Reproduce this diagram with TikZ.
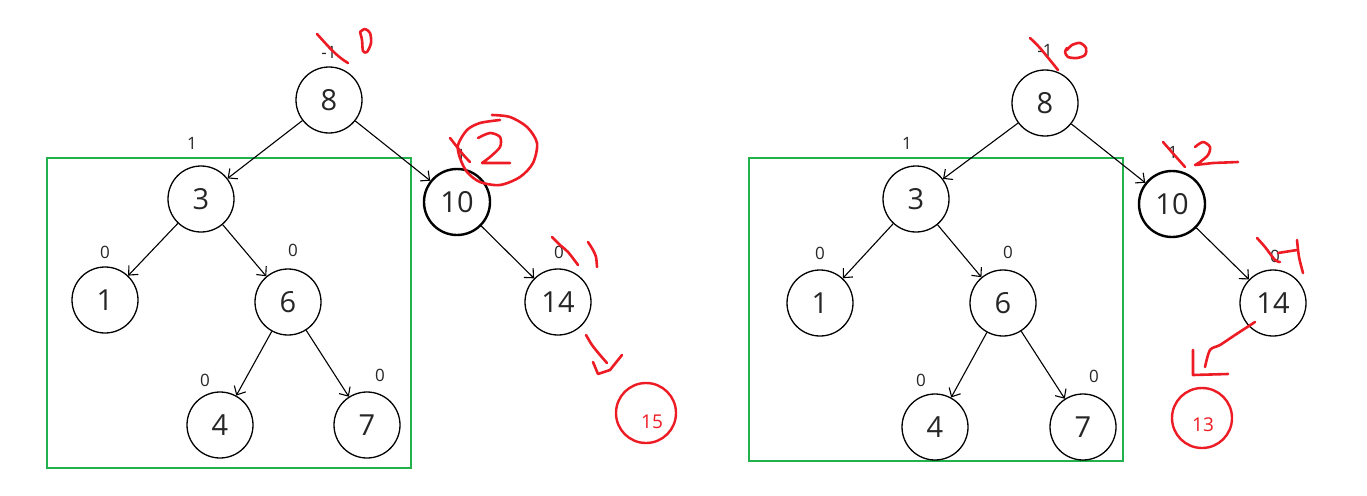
\documentclass[tikz,border=0pt]{standalone}
\usepackage{fontspec}
\setmainfont{Open Sans}
\usetikzlibrary{arrows.meta}
\definecolor{boxgreen}{RGB}{34,177,76}
\definecolor{inkred}{RGB}{237,28,36}
\begin{document}
\begin{tikzpicture}[x=1pt,y=-1pt,
 tn/.style={circle,draw,line width=1.3pt,minimum size=66pt,inner sep=0pt,font=\fontsize{29}{29}\selectfont,text=black!85},
 tnb/.style={tn,line width=2.4pt},
 lbl/.style={font=\fontsize{17}{17}\selectfont,inner sep=0pt,text=black!85},
 edge/.style={-{Straight Barb[length=7pt,width=13pt]},line width=1.1pt},
 box/.style={draw=boxgreen,line width=2.5pt},
 ink/.style={draw=inkred,line width=2.6pt,line cap=round,line join=round},
 rn/.style={circle,draw=inkred,line width=2.4pt,minimum size=60pt,inner sep=0pt},
 rtxt/.style={text=inkred,font=\fontsize{19}{19}\selectfont,inner sep=0pt}]
\useasboundingbox (0,0) rectangle (1367,495);
% ---------- left tree ----------
\node[box,minimum width=364pt,minimum height=310pt,inner sep=0pt] (boxL) at (229,313) {};
\node[tn] (a8) at (329,100) {8};
\node[tn] (a3) at (201,199) {3};
\node[tnb] (a10) at (457,202) {10};
\node[tn] (a1) at (105,300) {1};
\node[tn] (a6) at (288,302) {6};
\node[tn] (a14) at (558,302) {14};
\node[tn] (a4) at (220,425) {4};
\node[tn] (a7) at (367,425) {7};
\draw[edge] (a8) -- (a3);
\draw[edge] (a8) -- (a10);
\draw[edge] (a3) -- (a1);
\draw[edge] (a3) -- (a6);
\draw[edge] (a10) -- (a14);
\draw[edge] (a6) -- (a4);
\draw[edge] (a6) -- (a7);
\node[lbl] (la8) at (329,52) {-1};
\node[lbl] (la3) at (192,143) {1};
\node[lbl] (la10) at (461,155) {1};
\node[lbl] (la1) at (105,252) {0};
\node[lbl] (la6) at (293,250) {0};
\node[lbl] (la14) at (559,252) {0};
\node[lbl] (la4) at (205,380) {0};
\node[lbl] (la7) at (380,375) {0};
\node[rn] (a15) at (646,413) {};
\node[rtxt] (t15) at (652,422) {15};
% red ink left
\draw[ink] (317,34) .. controls (328,46) and (336,56) .. (348,63);
\draw[ink] plot[smooth] coordinates {(360,32) (365,29) (370,33) (371,43) (367,52) (363,51) (362,40) (360,32)};
\draw[ink] (450,138) .. controls (458,148) and (462,154) .. (470,162);
\draw[ink] plot[smooth] coordinates {(478,138) (490,133) (500,137) (500,147) (490,157) (482,163)} -- (510,163);
\draw[ink] plot[smooth] coordinates {(492,115) (510,117) (527,127) (537,143) (533,163) (520,177) (500,185) (480,182) (467,172) (460,158) (458,145) (467,130) (480,123) (500,120)};
\draw[ink] plot[smooth] coordinates {(552,237) (560,245) (568,252) (578,265)};
\draw[ink] plot[smooth] coordinates {(588,242) (593,250) (596,257) (597,267)};
\draw[ink] plot[smooth] coordinates {(586,335) (592,345) (600,355) (607,363)};
\draw[ink] (593,362) -- (598,374) -- (610,370) -- (622,355);
% ---------- right tree ----------
\node[box,minimum width=374pt,minimum height=303pt,inner sep=0pt] (boxR) at (936,309.5) {};
\node[tn] (b8) at (1045,103) {8};
\node[tn] (b3) at (916,199) {3};
\node[tnb] (b10) at (1172,204) {10};
\node[tn] (b1) at (820,303) {1};
\node[tn] (b6) at (1003,303) {6};
\node[tn] (b14) at (1273,303) {14};
\node[tn] (b4) at (935,427) {4};
\node[tn] (b7) at (1083,427) {7};
\draw[edge] (b8) -- (b3);
\draw[edge] (b8) -- (b10);
\draw[edge] (b3) -- (b1);
\draw[edge] (b3) -- (b6);
\draw[edge] (b10) -- (b14);
\draw[edge] (b6) -- (b4);
\draw[edge] (b6) -- (b7);
\node[lbl] (lb8) at (1045,50) {-1};
\node[lbl] (lb3) at (907,143) {1};
\node[lbl] (lb10) at (1173,152) {1};
\node[lbl] (lb1) at (820,253) {0};
\node[lbl] (lb6) at (1008,252) {0};
\node[lbl] (lb14) at (1275,256) {0};
\node[lbl] (lb4) at (921,380) {0};
\node[lbl] (lb7) at (1094,376) {0};
\node[rn,minimum size=60pt] (b13) at (1202,418) {};
\node[rtxt] (t13) at (1203,425) {13};
% red ink right
\draw[ink] plot[smooth] coordinates {(1030,38) (1040,48) (1058,70)};
\draw[ink] plot[smooth] coordinates {(1067,50) (1072,45) (1080,43) (1086,48) (1085,55) (1077,58) (1068,57) (1065,52) (1067,48)};
\draw[ink] plot[smooth] coordinates {(1163,142) (1170,150) (1185,167)};
\draw[ink] plot[smooth] coordinates {(1195,147) (1203,142) (1210,147) (1208,155) (1200,162) (1195,165)} -- (1213,163) -- (1238,162);
\draw[ink] plot[smooth] coordinates {(1257,238) (1265,247) (1275,260) (1280,262)};
\draw[ink] (1278,253) -- (1297,250);
\draw[ink] plot[smooth] coordinates {(1297,240) (1299,257) (1303,273)};
\draw[ink] plot[smooth] coordinates {(1255,322) (1235,335) (1220,345) (1210,350) (1205,367)};
\draw[ink] (1193,350) -- (1193,375) -- (1228,374);
\end{tikzpicture}
\end{document}
